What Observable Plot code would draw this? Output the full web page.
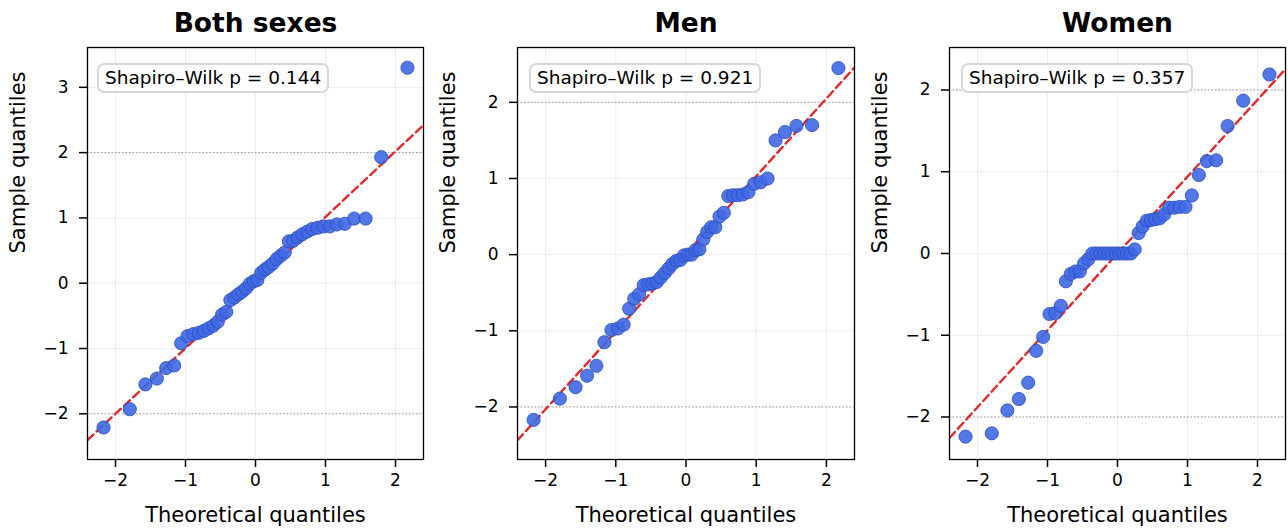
<!DOCTYPE html>
<html><head><meta charset="utf-8">
<script src="https://cdn.jsdelivr.net/npm/d3@7"></script>
<script src="https://cdn.jsdelivr.net/npm/@observablehq/plot@0.6"></script>
<style>
body{margin:0;background:#fff;font-family:"DejaVu Sans",sans-serif;}
#row{display:flex;position:relative;width:1288px;height:530px;overflow:hidden;}
.panel{position:relative;}
.sw{position:absolute;top:63px;height:30px;border:2px solid #d4d7db;border-radius:7px;background:#fff;font-size:18.5px;line-height:26px;padding:0 6px;box-sizing:border-box;white-space:nowrap;color:#000;}
</style></head><body><div id="row"></div>
<script>
const panelTitles = ["Both sexes", "Men", "Women"];
const shapiroP = ["0.144", "0.921", "0.357"];
const theoretical = [-2.171,-1.796,-1.573,-1.409,-1.276,-1.162,-1.062,-0.971,-0.888,-0.810,-0.738,-0.668,-0.602,-0.539,-0.477,-0.417,-0.359,-0.302,-0.246,-0.190,-0.136,-0.081,-0.027,
  0.027,0.081,0.136,0.190,0.246,0.302,0.359,0.417,0.477,0.539,0.602,0.668,0.738,0.810,0.888,0.971,1.062,1.162,1.276,1.409,1.573,1.796,2.171];
const bothSexes = [-2.21,-1.93,-1.55,-1.46,-1.30,-1.26,-0.92,-0.81,-0.78,-0.76,-0.73,-0.69,-0.65,-0.59,-0.48,-0.44,-0.26,-0.22,-0.17,-0.13,-0.08,-0.01,0.03,
  0.05,0.16,0.21,0.25,0.30,0.37,0.42,0.47,0.64,0.65,0.70,0.75,0.79,0.83,0.85,0.87,0.87,0.90,0.91,0.99,0.99,1.93,3.30];
const men = [-2.17,-1.89,-1.74,-1.59,-1.46,-1.15,-0.99,-0.97,-0.92,-0.71,-0.58,-0.52,-0.40,-0.39,-0.38,-0.36,-0.30,-0.24,-0.18,-0.12,-0.08,-0.07,-0.01,
  0.00,0.00,0.06,0.07,0.20,0.30,0.36,0.36,0.50,0.55,0.77,0.78,0.78,0.79,0.82,0.93,0.95,1.00,1.50,1.61,1.69,1.70,2.45];
const women = [-2.24,-2.20,-1.92,-1.78,-1.58,-1.19,-1.02,-0.74,-0.73,-0.64,-0.34,-0.25,-0.22,-0.22,-0.12,-0.07,0,0,0,0,0,0,0,
  0,0,0,0,0.05,0.25,0.33,0.40,0.41,0.42,0.43,0.48,0.56,0.56,0.57,0.57,0.71,0.96,1.13,1.14,1.56,1.87,2.19];
const fitSlope = [1.005, 1.02, 0.94];
const fitIntercept = [0.01, 0.01, 0.0];
const xTicks = [-2, -1, 0, 1, 2];
const yTicksBoth = [-2, -1, 0, 1, 2, 3];
const yTicksSex = [-2, -1, 0, 1, 2];
const refLevels = [-2, 2];

const samples = [bothSexes, men, women];
const yTickSets = [yTicksBoth, yTicksSex, yTicksSex];
const yDomains = [[-2.70, 3.61], [-2.69, 2.72], [-2.52, 2.52]];
const layout = [
  {w: 430, ml: 87, mr: 7, box: 10},
  {w: 430, ml: 87, mr: 6, box: 12},
  {w: 428, ml: 89, mr: 3, box: 12}
];
const xDomain = [-2.4, 2.4];
const row = document.getElementById("row");
const fmt = d3.format("d");

panelTitles.forEach((title, i) => {
  const pts = theoretical.map((t, k) => ({t, s: samples[i][k]}));
  const fit = xDomain.map(x => ({x, y: fitSlope[i] * x + fitIntercept[i]}));
  const yTicks = yTickSets[i];
  const L = layout[i];
  const chart = Plot.plot({
    width: L.w, height: 530,
    marginLeft: L.ml, marginRight: L.mr, marginTop: 47, marginBottom: 71,
    style: {fontFamily: "DejaVu Sans", fontSize: "17px", color: "#000", background: "white", overflow: "visible"},
    x: {domain: xDomain, ticks: xTicks, tickFormat: fmt},
    y: {domain: yDomains[i], ticks: yTicks, tickFormat: fmt},
    marks: [
      Plot.gridX(xTicks, {stroke: "#000", strokeOpacity: 0.07, strokeWidth: 1}),
      Plot.gridY(yTicks, {stroke: "#000", strokeOpacity: 0.07, strokeWidth: 1}),
      Plot.ruleY(refLevels, {stroke: "#9a9a9a", strokeWidth: 1, strokeDasharray: "1.5,2"}),
      Plot.line(fit, {x: "x", y: "y", stroke: "#e0292b", strokeWidth: 2.4, strokeDasharray: "8,4.5", clip: true}),
      Plot.dot(pts, {x: "t", y: "s", r: 6.6, fill: "#3f68e3", fillOpacity: 0.9, stroke: "#2a4cbf", strokeWidth: 0.8}),
      Plot.frame({stroke: "#000", strokeWidth: 1.3}),
      Plot.axisX(xTicks, {tickSize: 8, tickPadding: 6, label: null, fontSize: 17, strokeWidth: 1.5, tickFormat: fmt}),
      Plot.axisY(yTicks, {tickSize: 8, tickPadding: 11, label: null, fontSize: 17, strokeWidth: 1.5, tickFormat: fmt}),
      Plot.text(["Theoretical quantiles"], {frameAnchor: "bottom", dy: 56, lineAnchor: "middle", fontSize: 21}),
      Plot.text(["Sample quantiles"], {frameAnchor: "left", dx: -69, rotate: -90, lineAnchor: "middle", fontSize: 21}),
      Plot.text([title], {frameAnchor: "top", dy: -24, lineAnchor: "middle", fontSize: 26.5, fontWeight: "bold"})
    ]
  });
  const div = document.createElement("div");
  div.className = "panel";
  div.style.width = L.w + "px";
  div.appendChild(chart);
  const box = document.createElement("div");
  box.className = "sw";
  box.style.left = (L.ml + L.box) + "px";
  box.textContent = "Shapiro–Wilk p = " + shapiroP[i];
  div.appendChild(box);
  row.appendChild(div);
});
</script></body></html>
